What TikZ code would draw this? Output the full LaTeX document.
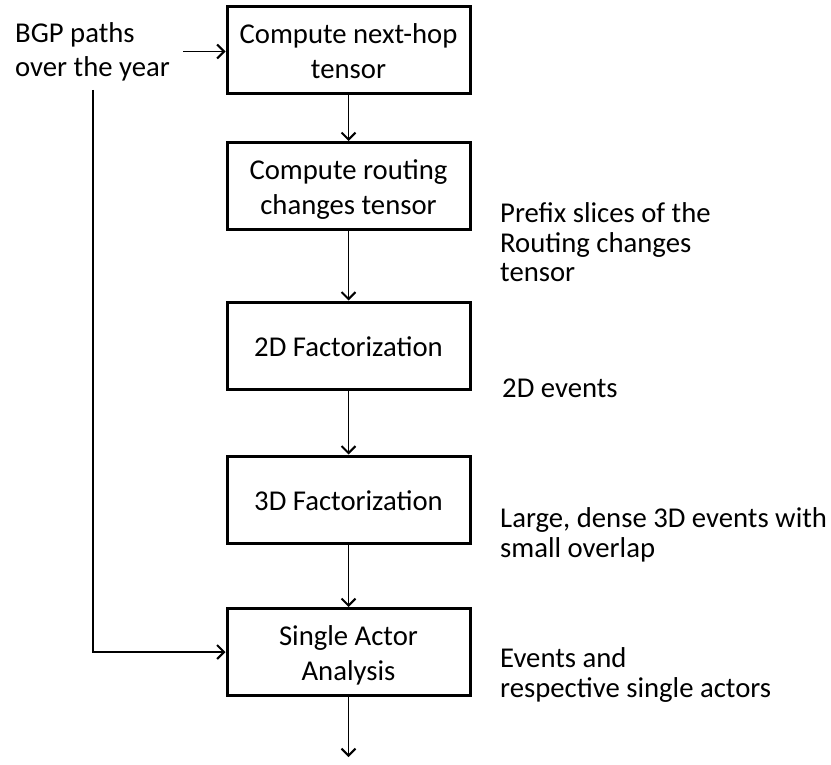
\documentclass[tikz,border=0pt]{standalone}
\usepackage{fontspec}
\setmainfont{Carlito}
\usetikzlibrary{arrows.meta}
\begin{document}
\begin{tikzpicture}[x=1pt,y=-1pt,
  stage/.style={draw, line width=3pt, minimum width=243pt, minimum height=87pt,
    inner sep=0pt, align=center, font=\fontsize{28.7}{35}\selectfont,
    text height=22pt, text depth=0pt},
  twoline/.style={text height=57pt},
  note/.style={anchor=base west, inner sep=0pt, align=left,
    font=\fontsize{28.7}{29.5}\selectfont},
  flow/.style={line width=1.2pt, -{Straight Barb[length=7pt,width=14pt,line width=2pt]}}]
\useasboundingbox (0,0) rectangle (831,765);

% processing stages
\node[stage, twoline] (nexthop) at (348.5,50.5) {Compute next-hop\\tensor};
\node[stage, twoline] (routing) at (348.5,186) {Compute routing\\changes tensor};
\node[stage] (fact2d)  at (348.5,345.5) {2D Factorization};
\node[stage] (fact3d)  at (348.5,499.5) {3D Factorization};
\node[stage, twoline] (single)  at (348.5,652) {Single Actor\\Analysis};

% input and intermediate data (anchored at the baseline of the last line)
\node[note, font=\fontsize{28.7}{34}\selectfont] (bgp) at (15,77) {BGP paths\\over the year};
\node[note] (slices) at (500,282) {Prefix slices of the\\Routing changes\\tensor};
\node[note] (ev2d)   at (502,397) {2D events};
\node[note] (ev3d)   at (500,557) {Large, dense 3D events with\\small overlap};
\node[note] (evout)  at (500,697) {Events and\\respective single actors};

\coordinate (bgpout) at (183,51.5);
\coordinate (bgpdown) at (93,90);
\coordinate (out) at (348.5,757);

% data flow
\draw[flow] (bgpout) -- (bgpout -| nexthop.west);
\draw[flow] (nexthop.south) -- (routing.north);
\draw[flow] (routing.south) -- (fact2d.north);
\draw[flow] (fact2d.south) -- (fact3d.north);
\draw[flow] (fact3d.south) -- (single.north);
\draw[flow] (bgpdown) |- (single.west);
\draw[flow] (single.south) -- (out);
\end{tikzpicture}
\end{document}
